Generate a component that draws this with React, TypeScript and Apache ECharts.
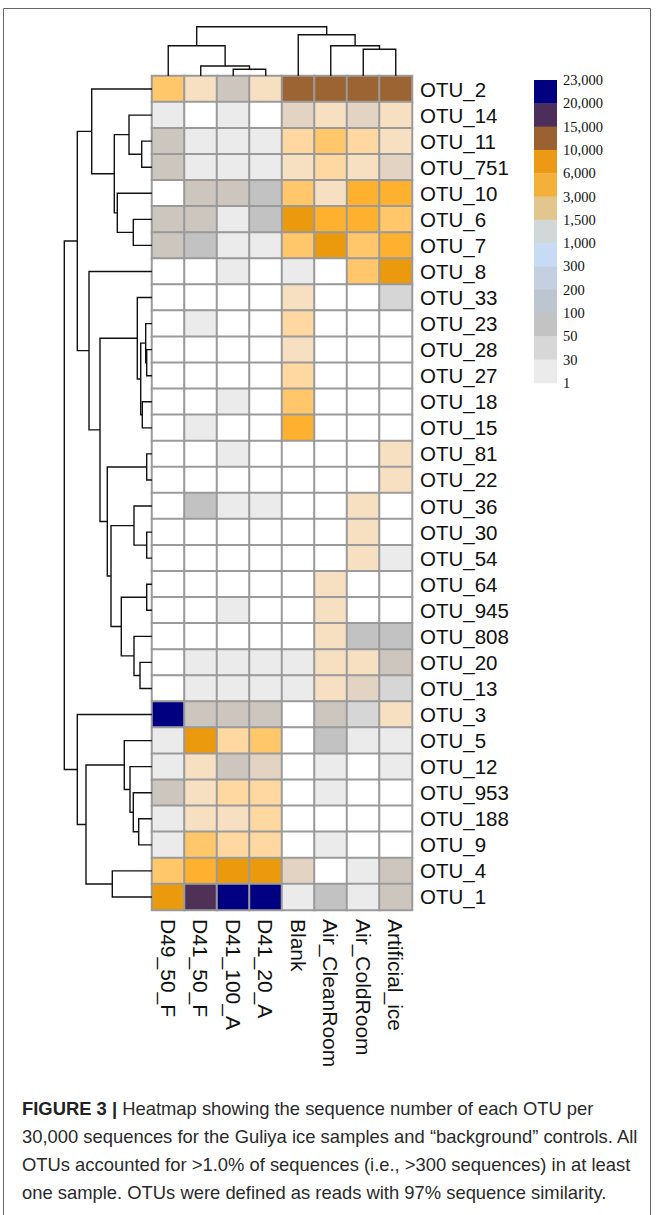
import React, { useEffect, useRef } from 'react';
import * as echarts from 'echarts';

const ROWS = ['OTU_2', 'OTU_14', 'OTU_11', 'OTU_751', 'OTU_10', 'OTU_6', 'OTU_7', 'OTU_8', 'OTU_33', 'OTU_23', 'OTU_28', 'OTU_27', 'OTU_18', 'OTU_15', 'OTU_81', 'OTU_22', 'OTU_36', 'OTU_30', 'OTU_54', 'OTU_64', 'OTU_945', 'OTU_808', 'OTU_20', 'OTU_13', 'OTU_3', 'OTU_5', 'OTU_12', 'OTU_953', 'OTU_188', 'OTU_9', 'OTU_4', 'OTU_1'];
const COLS = ['D49_50_F', 'D41_50_F', 'D41_100_A', 'D41_20_A', 'Blank', 'Air_CleanRoom', 'Air_ColdRoom', 'Artificial_ice'];

// sequence counts per sample, in ROWS order
const D49_50_F = [2200, 12, 140, 120, 0, 130, 150, 0, 0, 0, 0, 0, 0, 0, 0, 0, 0, 0, 0, 0, 0, 0, 0, 0, 22500, 15, 10, 160, 8, 12, 2400, 7800];
const D41_50_F = [650, 0, 15, 12, 130, 160, 80, 0, 0, 5, 0, 0, 0, 6, 0, 0, 70, 0, 0, 0, 0, 0, 10, 8, 140, 7000, 500, 700, 550, 1900, 4200, 16500];
const D41_100_A = [170, 20, 14, 16, 150, 20, 18, 6, 0, 0, 0, 0, 5, 0, 4, 0, 10, 0, 0, 0, 5, 0, 12, 10, 150, 1300, 180, 1250, 800, 1100, 8500, 21000];
const D41_20_A = [520, 0, 22, 18, 90, 85, 20, 0, 0, 0, 0, 0, 0, 0, 0, 0, 8, 0, 0, 0, 0, 0, 12, 14, 165, 2100, 240, 1400, 1150, 1350, 9000, 22800];
const BLANK = [12500, 260, 1200, 900, 2500, 6500, 2300, 25, 620, 1050, 880, 1100, 1800, 3300, 0, 0, 0, 0, 0, 0, 0, 0, 14, 12, 0, 0, 0, 0, 0, 0, 220, 20];
const AIR_CLEANROOM = [11500, 700, 1600, 1050, 950, 3800, 6200, 0, 0, 0, 0, 0, 0, 0, 0, 0, 0, 0, 0, 400, 450, 500, 600, 550, 110, 60, 8, 6, 0, 4, 0, 65];
const AIR_COLDROOM = [13000, 210, 1150, 850, 4000, 3500, 2700, 1700, 0, 0, 0, 0, 0, 0, 0, 0, 420, 380, 460, 0, 0, 55, 480, 230, 35, 10, 0, 0, 0, 0, 12, 15];
const ARTIFICIAL_ICE = [11000, 750, 980, 280, 5000, 2800, 3200, 7000, 45, 0, 0, 0, 0, 0, 360, 330, 0, 0, 18, 0, 0, 95, 120, 42, 650, 20, 11, 0, 0, 0, 105, 115];

const SAMPLE_VALUES = [D49_50_F, D41_50_F, D41_100_A, D41_20_A, BLANK, AIR_CLEANROOM, AIR_COLDROOM, ARTIFICIAL_ICE];

// colour breaks for cells
const CELL_BREAKS = [1, 30, 50, 100, 200, 300, 1000, 1500, 3000, 6000, 10000, 15000, 20000];
const CELL_COLORS = ['#ffffff', '#ebebeb', '#d6d6d6', '#c2c2c2', '#cdc6bf', '#e2d3c3', '#f7dfc2', '#fed8a0', '#ffc66a', '#fdb12e', '#eb9a0d', '#9c6432', '#4f3157', '#000080'];

// colour key (top to bottom)
const LEGEND_LABELS = ['23,000', '20,000', '15,000', '10,000', '6,000', '3,000', '1,500', '1,000', '300', '200', '100', '50', '30', '1'];
const LEGEND_COLORS = ['#000080', '#4b2f5a', '#9a6131', '#ec9a15', '#f3b13c', '#e3c68d', '#d2d8d7', '#c7dbf4', '#c4d0e2', '#bdc5d1', '#c3c3c3', '#d7d7d7', '#ebebeb'];

// row dendrogram merges: [childA, childB, height]; numbers refer to earlier merges
const ROW_MERGES: [string | number, string | number, number][] = [
  ['OTU_11', 'OTU_751', 10.3],
  ['OTU_14', 0, 23],
  ['OTU_6', 'OTU_7', 18.7],
  ['OTU_10', 2, 34.7],
  [1, 3, 37.7],
  ['OTU_2', 4, 60.3],
  ['OTU_28', 'OTU_27', 5.3],
  ['OTU_23', 6, 6.3],
  ['OTU_18', 'OTU_15', 9.7],
  [7, 8, 11.3],
  ['OTU_33', 9, 14.7],
  ['OTU_81', 'OTU_22', 5.3],
  ['OTU_30', 'OTU_54', 5.3],
  ['OTU_36', 12, 18],
  ['OTU_64', 'OTU_945', 5.3],
  ['OTU_20', 'OTU_13', 12],
  ['OTU_808', 15, 18],
  [14, 16, 30.7],
  [13, 17, 41],
  [11, 18, 44.7],
  [10, 19, 52],
  ['OTU_8', 20, 63],
  [5, 21, 74.7],
  ['OTU_188', 'OTU_9', 13.3],
  ['OTU_953', 23, 18.7],
  ['OTU_12', 24, 22],
  ['OTU_5', 25, 27.7],
  ['OTU_4', 'OTU_1', 39.7],
  [26, 27, 66],
  ['OTU_3', 28, 74.7],
  [22, 29, 87.7],
];

const COL_MERGES: [string | number, string | number, number][] = [
  ['D41_100_A', 'D41_20_A', 6.7],
  ['D41_50_F', 0, 10],
  ['D49_50_F', 1, 30.3],
  ['Air_ColdRoom', 'Artificial_ice', 26.7],
  ['Air_CleanRoom', 3, 30.3],
  ['Blank', 4, 41.3],
  [2, 5, 49.3],
];

const CAPTION_LINES = [
  '{b|FIGURE 3 |} Heatmap showing the sequence number of each OTU per',
  '30,000 sequences for the Guliya ice samples and \u201cbackground\u201d controls. All',
  'OTUs accounted for >1.0% of sequences (i.e., >300 sequences) in at least',
  'one sample. OTUs were defined as reads with 97% sequence similarity.',
];

function buildDendro(leaves: string[], merges: [string | number, string | number, number][]) {
  const pos: number[] = [];
  const hgt: number[] = [];
  const segs: number[][] = [];
  const get = (c: string | number) =>
    typeof c === 'number' ? [pos[c], hgt[c]] : [leaves.indexOf(c) + 0.5, 0];
  merges.forEach(([a, b, h], i) => {
    const [pa, ha] = get(a);
    const [pb, hb] = get(b);
    pos[i] = (pa + pb) / 2;
    hgt[i] = h;
    segs.push([pa, pb, ha, hb, h]);
  });
  return segs;
}

const SANS = 'Liberation Sans, Arial, sans-serif';

export default function App() {
  const ref = useRef<HTMLDivElement>(null);
  useEffect(() => {
    if (!ref.current) return;
    const chart = echarts.init(ref.current, null, { renderer: 'svg' });

    const heatData: number[][] = [];
    SAMPLE_VALUES.forEach((arr, c) => arr.forEach((v, r) => heatData.push([c, r, v])));

    const pieces: any[] = [{ lt: CELL_BREAKS[0], color: CELL_COLORS[0] }];
    for (let i = 0; i < CELL_BREAKS.length; i++) {
      const p: any = { gte: CELL_BREAKS[i], color: CELL_COLORS[i + 1] };
      if (i + 1 < CELL_BREAKS.length) p.lt = CELL_BREAKS[i + 1];
      pieces.push(p);
    }

    const rowSegs = buildDendro(ROWS, ROW_MERGES);
    const colSegs = buildDendro(COLS, COL_MERGES);

    const lineStyle = { stroke: '#111', lineWidth: 1.4, fill: null };

    const graphics: any[] = [];
    graphics.push({
      type: 'rect', z: 0,
      shape: { x: 3.5, y: 8.5, width: 647, height: 1240 },
      style: { stroke: '#666', lineWidth: 1, fill: null },
    });
    const binH = 23.3;
    LEGEND_COLORS.forEach((c, i) => {
      graphics.push({
        type: 'rect',
        shape: { x: 534, y: 80 + i * binH, width: 23, height: binH + 0.5 },
        style: { fill: c },
      });
    });
    LEGEND_LABELS.forEach((t, i) => {
      graphics.push({
        type: 'text', x: 563, y: 80 + i * binH,
        style: { text: t, fontSize: 14.5, fontFamily: 'Liberation Serif, Times New Roman, serif', fill: '#111', verticalAlign: 'middle' },
      });
    });
    graphics.push({
      type: 'text', x: 22, y: 1094,
      style: {
        text: CAPTION_LINES.join('\n'),
        fontSize: 18.4, fontFamily: SANS, fill: '#2a2a2a',
        lineHeight: 28, verticalAlign: 'top',
        rich: { b: { fontSize: 18.4, fontFamily: SANS, fontWeight: 'bold', fill: '#222', lineHeight: 28 } },
      },
    });

    chart.setOption({
      animation: false,
      backgroundColor: '#ffffff',
      grid: [
        { left: 152, top: 76, width: 260, height: 834, show: true, borderColor: '#9a9a9a', borderWidth: 1.5, backgroundColor: 'transparent' },
        { left: 52, top: 76, width: 100, height: 834 },
        { left: 152, top: 16, width: 260, height: 60 },
      ],
      xAxis: [
        {
          type: 'category', data: COLS, gridIndex: 0, position: 'bottom',
          axisLine: { show: false }, axisTick: { show: false }, splitLine: { show: false },
          axisLabel: { rotate: -90, margin: 9, fontSize: 21, fontFamily: SANS, color: '#111', interval: 0 },
        },
        { type: 'value', gridIndex: 1, min: 0, max: 100, inverse: true, show: false },
        { type: 'value', gridIndex: 2, min: 0, max: 8, show: false },
      ],
      yAxis: [
        {
          type: 'category', data: ROWS, gridIndex: 0, inverse: true, position: 'right',
          axisLine: { show: false }, axisTick: { show: false }, splitLine: { show: false },
          axisLabel: { margin: 8, fontSize: 20.5, fontFamily: SANS, color: '#111', interval: 0 },
        },
        { type: 'value', gridIndex: 1, min: 0, max: 32, inverse: true, show: false },
        { type: 'value', gridIndex: 2, min: 0, max: 60, show: false },
      ],
      visualMap: {
        type: 'piecewise', show: false, seriesIndex: 0, dimension: 2, pieces,
      },
      series: [
        {
          type: 'heatmap', xAxisIndex: 0, yAxisIndex: 0, data: heatData,
          itemStyle: { borderColor: '#9a9a9a', borderWidth: 2 },
          emphasis: { disabled: true },
        },
        {
          type: 'custom', xAxisIndex: 1, yAxisIndex: 1, data: rowSegs, clip: false,
          renderItem: (_p: any, api: any) => {
            const pa = api.value(0), pb = api.value(1), ha = api.value(2), hb = api.value(3), h = api.value(4);
            return {
              type: 'polyline',
              shape: { points: [api.coord([ha, pa]), api.coord([h, pa]), api.coord([h, pb]), api.coord([hb, pb])] },
              style: lineStyle,
            };
          },
        },
        {
          type: 'custom', xAxisIndex: 2, yAxisIndex: 2, data: colSegs, clip: false,
          renderItem: (_p: any, api: any) => {
            const pa = api.value(0), pb = api.value(1), ha = api.value(2), hb = api.value(3), h = api.value(4);
            return {
              type: 'polyline',
              shape: { points: [api.coord([pa, ha]), api.coord([pa, h]), api.coord([pb, h]), api.coord([pb, hb])] },
              style: lineStyle,
            };
          },
        },
      ],
      graphic: graphics,
    });
    return () => chart.dispose();
  }, []);
  return (
    <div
      ref={ref}
      style={{ position: 'fixed', left: 0, top: 0, width: 657, height: 1215, background: '#fff' }}
    />
  );
}
